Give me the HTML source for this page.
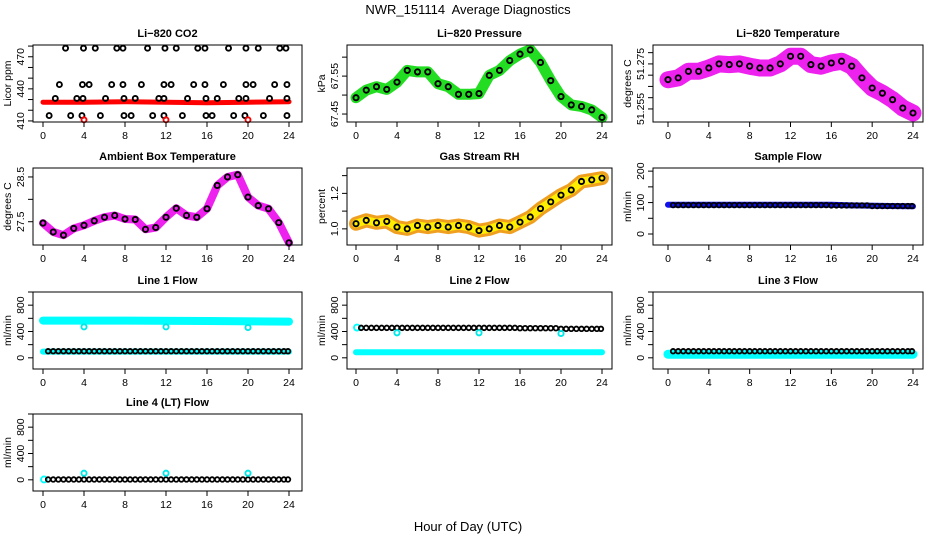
<!DOCTYPE html>
<html><head><meta charset="utf-8"><style>
html,body{margin:0;padding:0;background:#fff;}
svg{display:block;font-family:"Liberation Sans",Arial,sans-serif;}
</style></head><body>
<svg id="chart" width="936" height="540" viewBox="0 0 936 540" xmlns="http://www.w3.org/2000/svg">
<text x="468" y="14" text-anchor="middle" font-size="13">NWR_151114&#160; Average Diagnostics</text>
<text x="468" y="531" text-anchor="middle" font-size="13">Hour of Day (UTC)</text>
</svg>
<script>
const HOURS=[0,1,2,3,4,5,6,7,8,9,10,11,12,13,14,15,16,17,18,19,20,21,22,23,24];
const X_TICKS=[0,4,8,12,16,20,24];
const CIRC_HOURS=[0.5,1,1.5,2,2.5,3,3.5,4,4.5,5,5.5,6,6.5,7,7.5,8,8.5,9,9.5,10,10.5,11,11.5,12,12.5,13,13.5,14,14.5,15,15.5,16,16.5,17,17.5,18,18.5,19,19.5,20,20.5,21,21.5,22,22.5,23,23.5,23.9];
const SEG_HOURS=[0,4,8,12,16,20];

// CO2
const co2BandHours=[0,4,8,12,16,20,24];
const co2BandVals=[427.5,427.5,428,427.5,427,427.5,428];
const co2Levels=[478,444,431,415];
const co2LevelHours=[
 [2.2,3.95,5.1,7.2,7.8,10.2,11.9,13.0,15.1,15.8,18.1,19.8,21.0,23.1,23.7],
 [1.6,3.85,4.5,6.7,7.8,9.6,11.8,12.5,14.7,15.8,17.6,19.8,20.5,22.6,23.8],
 [1.2,3.3,3.9,6.1,7.9,9.0,11.3,11.8,14.1,15.9,17.0,19.1,19.8,22.1,23.8],
 [0.6,2.7,3.8,5.6,7.9,8.6,10.7,11.8,13.6,15.9,16.5,18.6,19.7,21.5,23.8]];
const co2LowHours=[4,12,20];
const co2LowVals=[411,411,411];
// Pressure
const pressVals=[67.493,67.513,67.522,67.515,67.534,67.565,67.561,67.561,67.530,67.522,67.502,67.502,67.504,67.552,67.565,67.591,67.608,67.619,67.586,67.538,67.496,67.474,67.470,67.461,67.441];
// Li-820 temperature
const tempVals=[51.268,51.2688,51.2717,51.2717,51.2732,51.275,51.2747,51.275,51.274,51.2732,51.2732,51.275,51.2784,51.2784,51.2747,51.274,51.2754,51.2762,51.274,51.2688,51.2643,51.262,51.2591,51.2554,51.2532];
// Ambient
const ambVals=[27.47,27.27,27.2,27.35,27.42,27.52,27.6,27.64,27.56,27.55,27.33,27.37,27.6,27.8,27.64,27.6,27.79,28.31,28.5,28.55,28.05,27.86,27.79,27.48,27.03];
// RH
const rhVals=[1.029,1.048,1.034,1.042,1.01,1.0,1.019,1.01,1.019,1.01,1.019,1.01,0.99,1.0,1.019,1.01,1.038,1.067,1.114,1.152,1.19,1.219,1.267,1.276,1.286];
// Sample flow
const sampleBandHours=[0,8,16,18,24];
const sampleBandVals=[93,93,93,91,88];
const sampleSeg=[92,92,92,92,91,89];
// Line flows
const l1UpperHours=[0,8,16,24];
const l1UpperVals=[565,565,560,550];
const l1LowerHours=[0,24];
const l1LowerVals=[95,95];
const l1Seg=[100,100,100,100,100,100];
const l1OutHours=[4,12,20];
const l1OutVals=[470,470,460];
const l2UpperHours=[0.1];
const l2UpperVals=[460];
const l2LowerHours=[0,24];
const l2LowerVals=[85,85];
const l2Seg=[455,455,455,455,450,440];
const l2OutVals=[380,380,370];
const l3BandHours=[0,24];
const l3BandVals=[55,55];
const l3Seg=[100,100,100,100,100,100];
const l4StartHours=[0.1];
const l4StartVals=[5];
const l4Seg=[5,5,5,5,5,5];
const l4OutVals=[100,100,100];

const NS="http://www.w3.org/2000/svg";
const svg=document.getElementById('chart');
const COLS=[{l:33,r:302,x0:43,x24:289},{l:347,r:612,x0:356,x24:602},{l:653,r:923,x0:668,x24:913}];
const ROWS=[45,168,292,414];
const PH=77;
function mk(tag,attrs,parent){const e=document.createElementNS(NS,tag);for(const k in attrs)e.setAttribute(k,attrs[k]);(parent||svg).appendChild(e);return e;}
function panel(c,r,ymin,ymax,name){
 const C=COLS[c],top=ROWS[r];
 const g=mk('g',{});
 
 
 return {g,l:C.l,r:C.r,top,bot:top+PH,
  x:h=>C.x0+(C.x24-C.x0)*h/24,
  y:v=>top+PH-(v-ymin)/(ymax-ymin)*PH};
}
function axes(p,title,ylab,ticks,labels,fmt){
 const a=mk('g',{},p.g);
 
 
 const box=mk('rect',{x:p.l,y:p.top,width:p.r-p.l,height:PH,fill:'none',stroke:'#000','stroke-width':1},a);
 
 
 X_TICKS.forEach(h=>{
  mk('line',{x1:p.x(h),x2:p.x(h),y1:p.bot,y2:p.bot+5,stroke:'#000'},a);
  const t=mk('text',{x:p.x(h),y:p.bot+17,'text-anchor':'middle','font-size':10.5},a);
  t.textContent=h;
  
  
 });
 ticks.forEach(v=>{mk('line',{x1:p.l-5,x2:p.l,y1:p.y(v),y2:p.y(v),stroke:'#000'},a);});
 labels.forEach(v=>{
  const yy=p.y(v);
  const t=mk('text',{x:p.l-9,y:yy,'text-anchor':'middle','font-size':10.5,transform:`rotate(-90 ${p.l-9} ${yy})`},a);
  t.textContent=fmt?fmt(v):v;
  
  
 });
 const tt=mk('text',{x:(p.l+p.r)/2,y:p.top-8,'text-anchor':'middle','font-size':11,'font-weight':'bold'},a);
 tt.textContent=title;
 
 
 const cy=(p.top+p.bot)/2;
 const yl=mk('text',{x:p.l-22,y:cy,'text-anchor':'middle','font-size':10.5,transform:`rotate(-90 ${p.l-22} ${cy})`},a);
 yl.textContent=ylab;
 
 
}
function band(p,hours,vals,color,w,name){
 const pts=hours.map((h,i)=>p.x(h).toFixed(1)+','+p.y(vals[i]).toFixed(1)).join(' ');
 const e=mk('polyline',{points:pts,fill:'none',stroke:color,'stroke-width':w,'stroke-linejoin':'round','stroke-linecap':'round'},p.g);
 
 
}
function circles(p,hours,vals,color,r,name){
 hours.forEach((h,i)=>{
  const e=mk('circle',{cx:p.x(h),cy:p.y(vals[i]),r:r,fill:'none',stroke:color,'stroke-width':1.9},p.g);
  
  
 });
}
function segCircles(p,seg,color,name){
 CIRC_HOURS.forEach(h=>{
  let k=0;for(let i=0;i<SEG_HOURS.length;i++)if(h>=SEG_HOURS[i])k=i;
  const e=mk('circle',{cx:p.x(h),cy:p.y(seg[k]),r:2.3,fill:'none',stroke:color,'stroke-width':1.8},p.g);
  
  
 });
}
const flowTicks=[0,200,400,600,800,1000],flowLabels=[0,400,800];

// CO2
let p=panel(0,0,409,481,'co2-panel');
band(p,co2BandHours,co2BandVals,'#ff0000',5,'co2-band');
co2Levels.forEach((lv,i)=>circles(p,co2LevelHours[i],co2LevelHours[i].map(()=>lv),'#000',2.5,'co2-point'));
circles(p,co2LowHours,co2LowVals,'#ff0000',2.5,'co2-outlier');
axes(p,'Li−820 CO2','Licor ppm',[410,420,430,440,450,460,470,480],[410,440,470]);
// Pressure
p=panel(1,0,67.429,67.632,'pressure-panel');
band(p,HOURS,pressVals,'#22dd22',11,'pressure-band');
circles(p,HOURS,pressVals,'#000',2.6,'pressure-point');
axes(p,'Li−820 Pressure','kPa',[67.45,67.5,67.55,67.6],[67.45,67.55],v=>v.toFixed(2));
// Temp
p=panel(2,0,51.2492,51.2834,'li820-temp-panel');
band(p,HOURS,tempVals,'#ee22ee',17,'temp-band');
circles(p,HOURS,tempVals,'#000',2.6,'temp-point');
axes(p,'Li−820 Temperature','degrees C',[51.255,51.26,51.265,51.27,51.275,51.28],[51.255,51.275],v=>v.toFixed(3));
// Ambient
p=panel(0,1,26.98,28.70,'ambient-panel');
band(p,HOURS,ambVals,'#ee22ee',8,'ambient-band');
circles(p,HOURS,ambVals,'#000',2.6,'ambient-point');
axes(p,'Ambient Box Temperature','degrees C',[27.5,28,28.5],[27.5,28.5],v=>v.toFixed(1));
// RH
p=panel(1,1,0.909,1.343,'rh-panel');
band(p,HOURS,rhVals,'#f0a020',14,'rh-band');
band(p,HOURS,rhVals,'#ffee00',8,'rh-band-inner');
circles(p,HOURS,rhVals,'#000',2.6,'rh-point');
axes(p,'Gas Stream RH','percent',[1.0,1.1,1.2,1.3],[1.0,1.2],v=>v.toFixed(1));
// Sample flow
p=panel(2,1,-35,210,'sample-flow-panel');
band(p,sampleBandHours,sampleBandVals,'#1010ee',6,'sample-band');
segCircles(p,sampleSeg,'#000','sample-point');
axes(p,'Sample Flow','ml/min',[0,50,100,150,200],[0,100,200]);
// Line 1
p=panel(0,2,-170,1000,'line1-panel');
band(p,l1UpperHours,l1UpperVals,'#00ffff',8,'line1-upper-band');
band(p,l1LowerHours,l1LowerVals,'#00ffff',6,'line1-lower-band');
segCircles(p,l1Seg,'#000','line1-point');
circles(p,l1OutHours,l1OutVals,'#00e8e8',2.6,'line1-outlier');
axes(p,'Line 1 Flow','ml/min',flowTicks,flowLabels);
// Line 2
p=panel(1,2,-170,1000,'line2-panel');
circles(p,l2UpperHours,l2UpperVals,'#00ffff',3,'line2-start');
band(p,l2LowerHours,l2LowerVals,'#00ffff',6,'line2-lower-band');
segCircles(p,l2Seg,'#000','line2-point');
circles(p,l1OutHours,l2OutVals,'#00e8e8',2.6,'line2-outlier');
axes(p,'Line 2 Flow','ml/min',flowTicks,flowLabels);
// Line 3
p=panel(2,2,-170,1000,'line3-panel');
band(p,l3BandHours,l3BandVals,'#00ffff',9,'line3-band');
segCircles(p,l3Seg,'#000','line3-point');
axes(p,'Line 3 Flow','ml/min',flowTicks,flowLabels);
// Line 4
p=panel(0,3,-170,1000,'line4-panel');
circles(p,l4StartHours,l4StartVals,'#00ffff',3,'line4-start');
segCircles(p,l4Seg,'#000','line4-point');
circles(p,l1OutHours,l4OutVals,'#00e8e8',2.6,'line4-outlier');
axes(p,'Line 4 (LT) Flow','ml/min',flowTicks,flowLabels);
</script>
</body></html>
